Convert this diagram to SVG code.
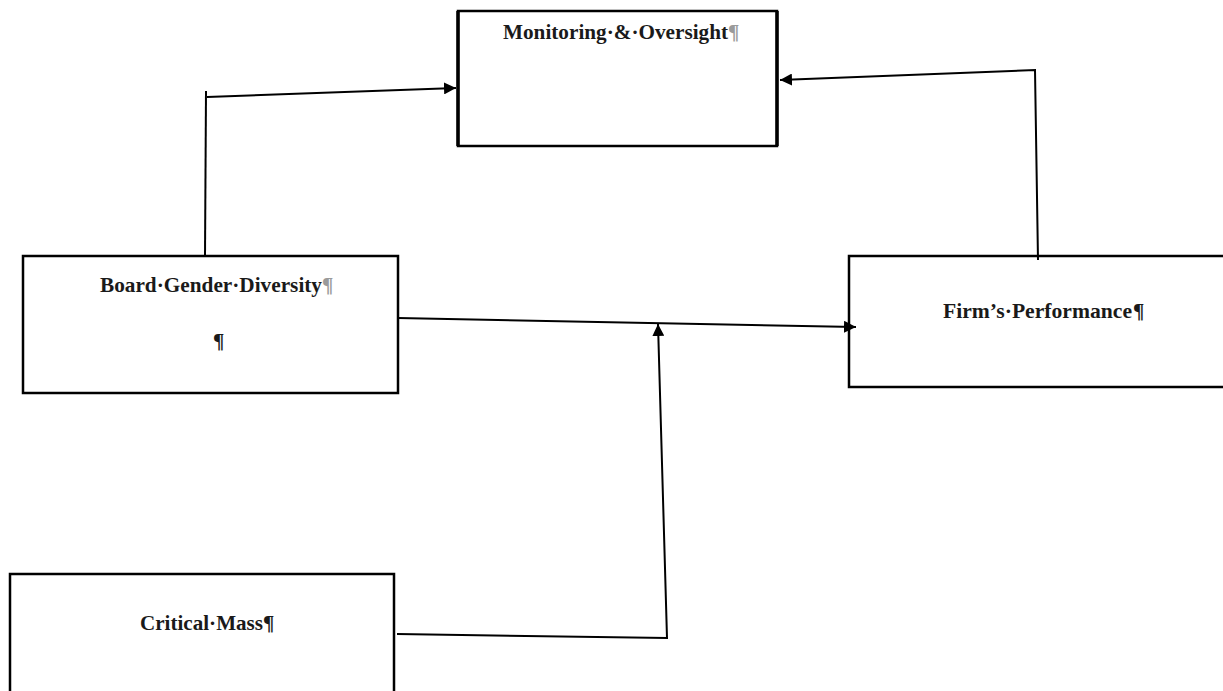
<svg xmlns="http://www.w3.org/2000/svg" width="1223" height="691" viewBox="0 0 1223 691">
<style>
.box{fill:#fff;stroke:#000;stroke-width:2.5}
.lbl{font-family:"Liberation Serif","Times New Roman",serif;font-weight:bold;font-size:21px;fill:#1a1a1a}
.pm{fill:#9a9a9a}
.con{fill:none;stroke:#000;stroke-width:2}
</style>
<defs>
<marker id="arr" viewBox="0 0 10 10" refX="10" refY="5" markerWidth="6" markerHeight="6" orient="auto" markerUnits="strokeWidth">
<path d="M0,0 L10,5 L0,10 z" fill="#000"/>
</marker>
</defs>
<rect width="1223" height="691" fill="#fff"/>
<g id="monitoring">
<rect class="box" x="458" y="11" width="319" height="135"/>
<line x1="458" y1="11" x2="458" y2="146" stroke="#000" stroke-width="3.5"/>
<line x1="777" y1="11" x2="777" y2="146" stroke="#000" stroke-width="3.5"/>
<text class="lbl" x="503" y="39" textLength="225" lengthAdjust="spacingAndGlyphs">Monitoring·&amp;·Oversight</text><text class="lbl pm" x="728" y="39">¶</text>
</g>
<g id="board">
<rect class="box" x="23" y="256" width="375" height="137"/>
<text class="lbl" x="100" y="292" textLength="222" lengthAdjust="spacingAndGlyphs">Board·Gender·Diversity</text><text class="lbl pm" x="322" y="292">¶</text>
<text class="lbl" x="213" y="348">¶</text>
</g>
<g id="firm">
<rect class="box" x="849" y="256" width="376" height="131"/>
<text class="lbl" x="943" y="318" textLength="189" lengthAdjust="spacingAndGlyphs">Firm’s·Performance</text><text class="lbl" x="1133" y="318">¶</text>
</g>
<g id="critical">
<rect class="box" x="10" y="574" width="384" height="130"/>
<text class="lbl" x="140" y="630" textLength="123" lengthAdjust="spacingAndGlyphs">Critical·Mass</text><text class="lbl" x="263" y="630">¶</text>
</g>
<g id="connectors">
<polyline class="con" points="205,257 206,91"/>
<polyline class="con" points="207,97 456,88" marker-end="url(#arr)"/>
<polyline class="con" points="1038,260 1035,70 780,80" marker-end="url(#arr)"/>
<polyline class="con" points="398,318 856,327" marker-end="url(#arr)"/>
<polyline class="con" points="397,634 667,638 658,324" marker-end="url(#arr)"/>
</g>
</svg>
